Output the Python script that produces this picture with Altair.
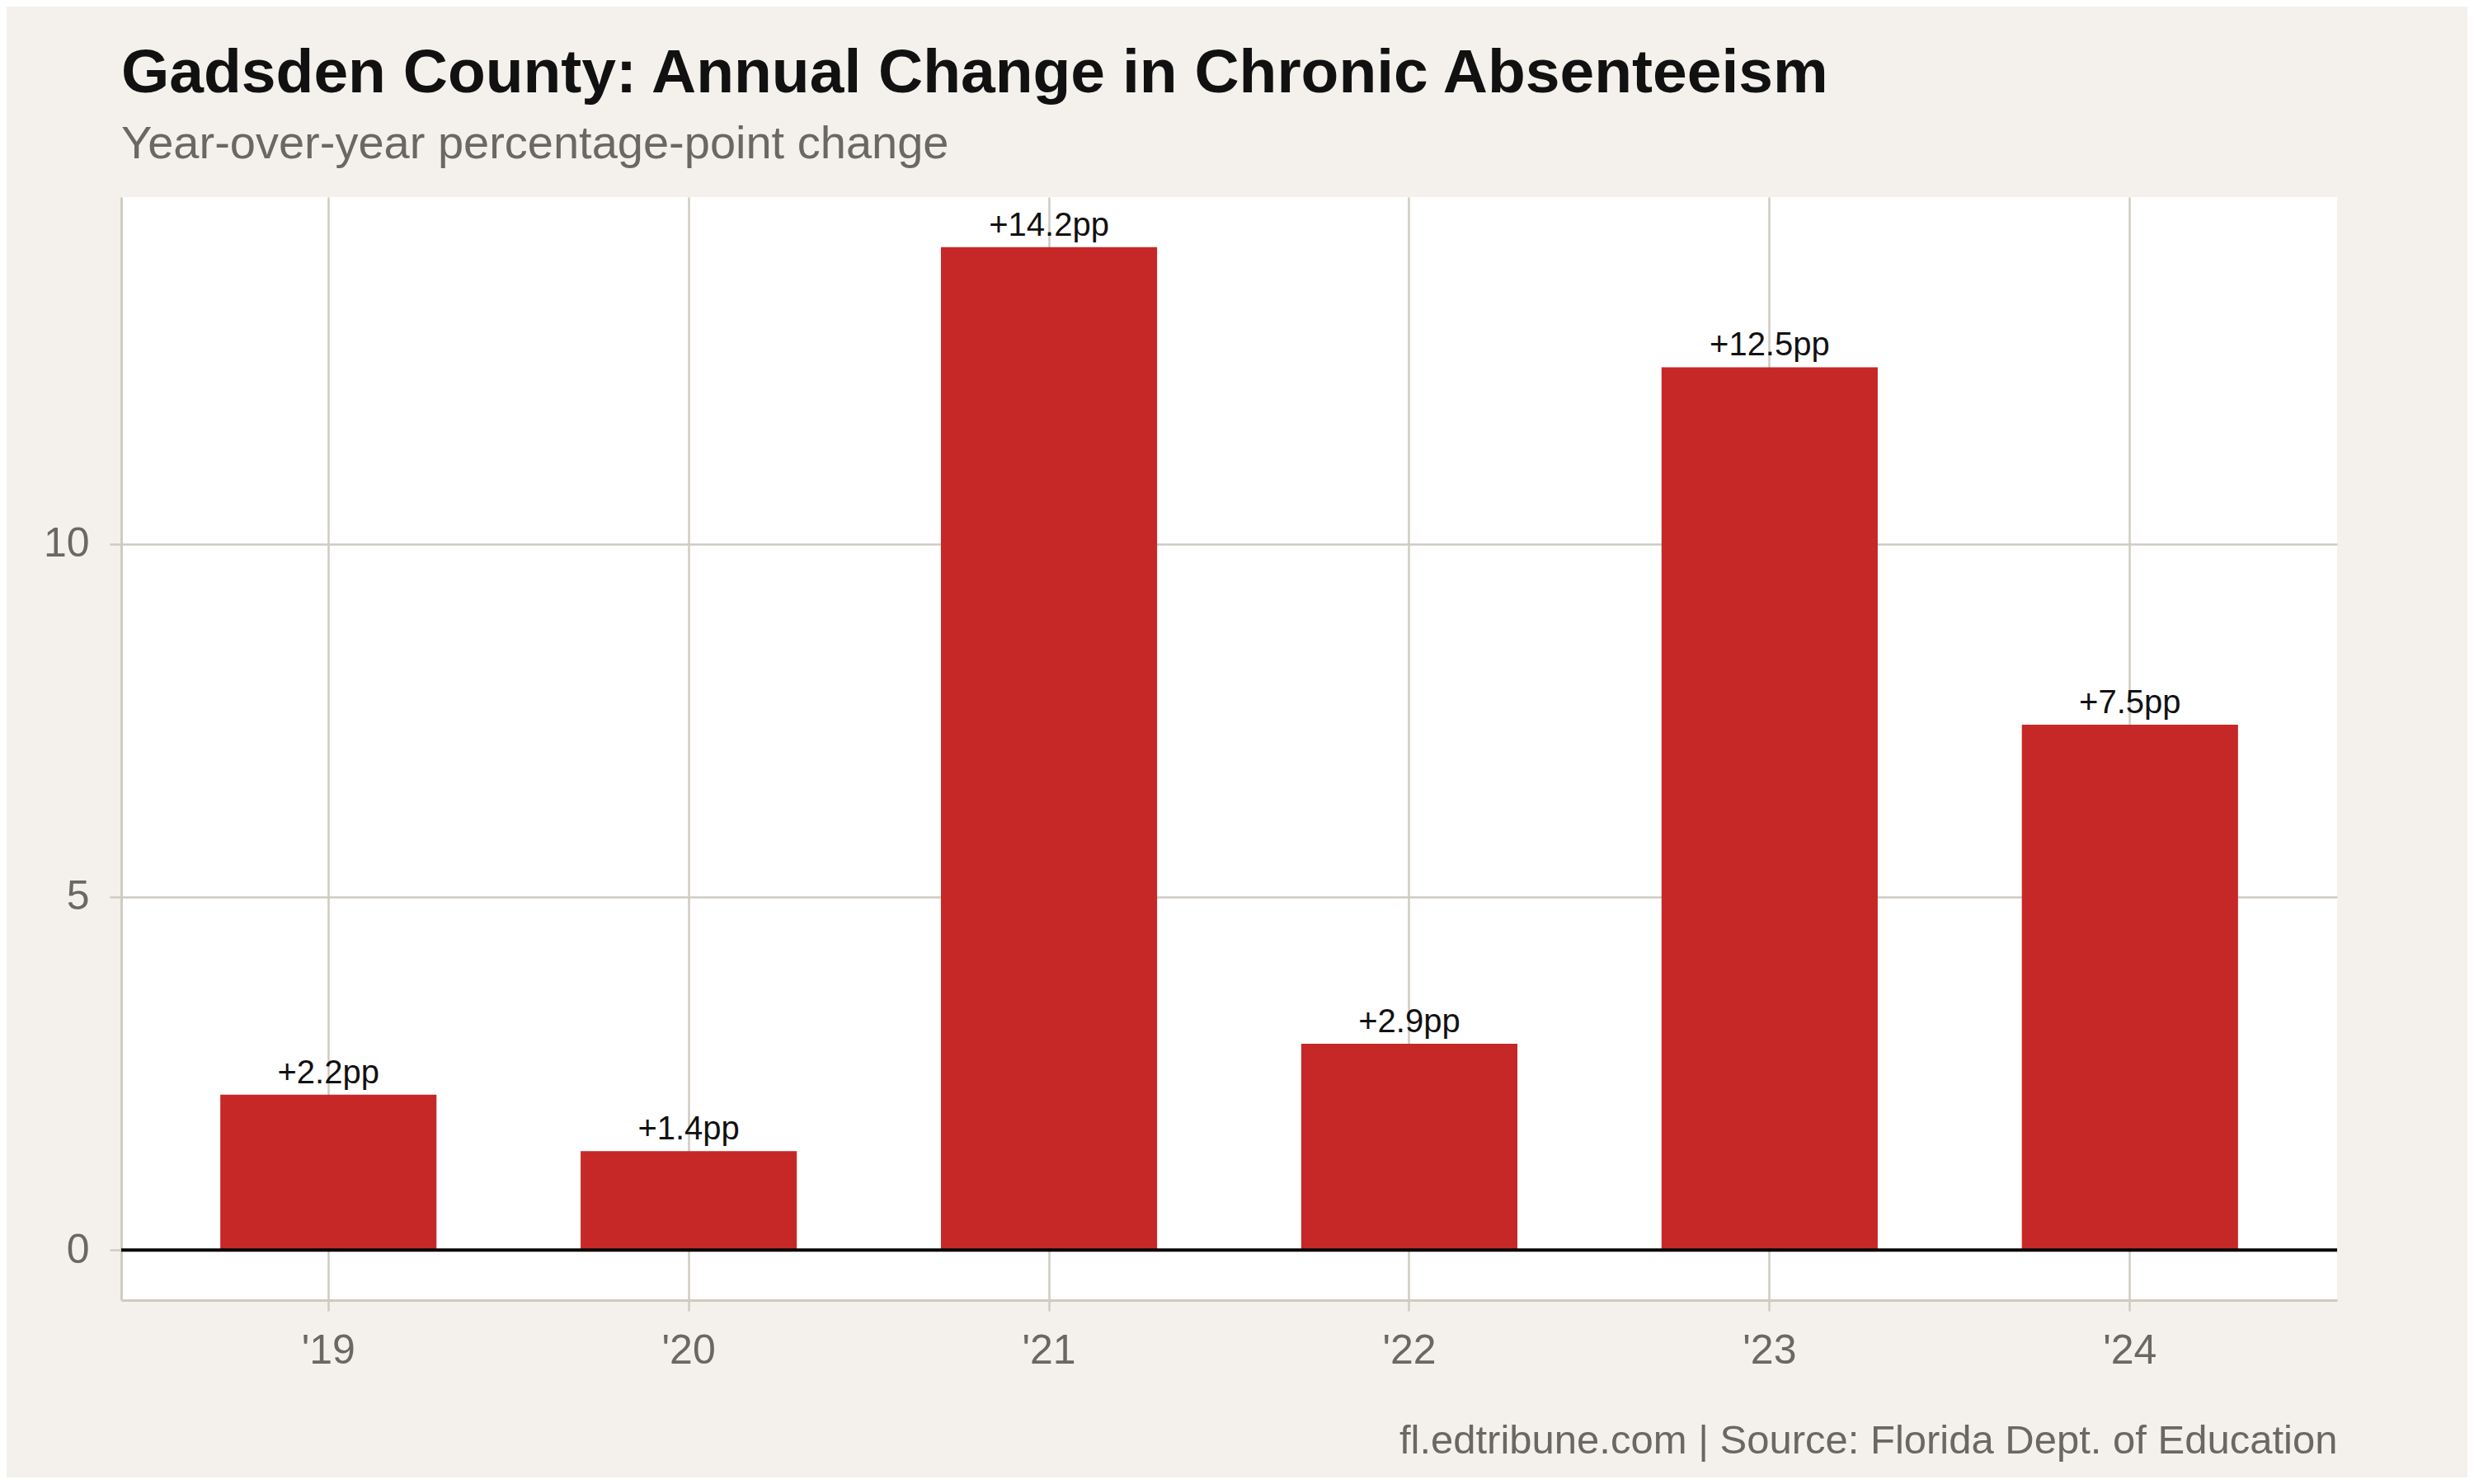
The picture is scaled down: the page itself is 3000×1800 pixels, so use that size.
import altair as alt
import pandas as pd

# ---- data ----
years = ["'19", "'20", "'21", "'22", "'23", "'24"]
changes = [2.2, 1.4, 14.2, 2.92, 12.5, 7.44]
labels = ["+2.2pp", "+1.4pp", "+14.2pp", "+2.9pp", "+12.5pp", "+7.5pp"]
y_ticks = [0, 5, 10]
y_domain = [-0.71, 14.91]
zero_line = [0]

title_text = "Gadsden County: Annual Change in Chronic Absenteeism"
subtitle_text = "Year-over-year percentage-point change"
caption_text = "fl.edtribune.com | Source: Florida Dept. of Education"

df = pd.DataFrame({"year": years, "change": changes, "label": labels})
zdf = pd.DataFrame({"zero": zero_line})

# ---- style ----
BG = "#f4f1ec"
GRID = "#cfcbc2"
GRAY = "#6b6863"
RED = "#c62828"
FONT = "Liberation Sans"

x_enc = alt.X(
    "year:N",
    sort=years,
    scale=alt.Scale(paddingInner=0.4, paddingOuter=0.275),
    axis=alt.Axis(
        title=caption_text,
        labelAngle=0,
        bandPosition=0.5,
        grid=True,
        gridColor=GRID,
        gridWidth=2.5,
        domainColor=GRID,
        domainWidth=3,
        tickColor=GRID,
        tickWidth=2.5,
        tickSize=13,
        labelFont=FONT,
        labelFontSize=50,
        labelColor=GRAY,
        labelPadding=23,
        titleFont=FONT,
        titleFontSize=49,
        titleFontWeight="normal",
        titleColor=GRAY,
        titleAnchor="end",
        titleAlign="right",
        titlePadding=60,
    ),
)

y_enc = alt.Y(
    "change:Q",
    scale=alt.Scale(domain=y_domain, nice=False, zero=False),
    axis=alt.Axis(
        title=None,
        values=y_ticks,
        format="d",
        grid=True,
        gridColor=GRID,
        gridWidth=2.5,
        domainColor=GRID,
        domainWidth=3,
        tickColor=GRID,
        tickWidth=2.5,
        tickSize=14,
        labelFont=FONT,
        labelFontSize=50,
        labelColor=GRAY,
        labelPadding=25,
    ),
)

base = alt.Chart(df)

bars = base.mark_bar(color=RED).encode(x=x_enc, y=y_enc, y2=alt.datum(0))

text = base.mark_text(
    font=FONT, fontSize=40, color="#111111", baseline="alphabetic", dy=-14
).encode(x=alt.X("year:N", sort=years), y="change:Q", text="label:N")

zero = alt.Chart(zdf).mark_rule(color="#000000", strokeWidth=4).encode(
    y=alt.Y("zero:Q")
)

chart = (
    alt.layer(bars, zero, text)
    .properties(
        width=2687,
        height=1338,
        background=BG,
        autosize=alt.AutoSizeParams(type="none"),
        padding={"left": 139, "top": 231, "right": 158, "bottom": 215},
        title=alt.TitleParams(
            text=title_text,
            subtitle=subtitle_text,
            anchor="start",
            frame="group",
            font=FONT,
            fontSize=75,
            fontWeight="bold",
            color="#111111",
            subtitleFont=FONT,
            subtitleFontSize=56,
            subtitleColor=GRAY,
            subtitlePadding=20,
            offset=35,
        ),
    )
    .configure_view(fill="white", strokeWidth=0)
)

chart.save("out.html", embed_options={"renderer": "svg", "actions": False})
